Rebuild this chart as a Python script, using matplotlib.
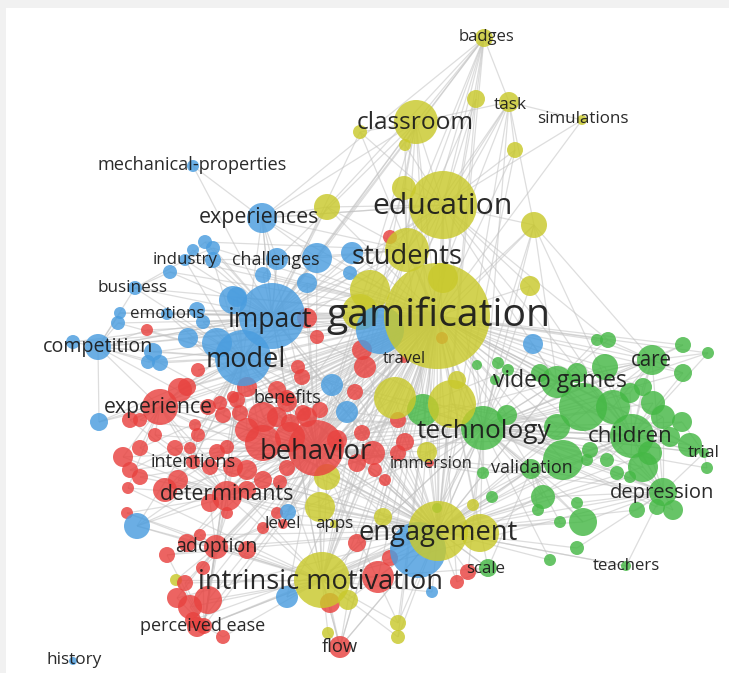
import matplotlib
matplotlib.use('Agg')
import matplotlib.pyplot as plt
from matplotlib.patches import Circle, Rectangle
from matplotlib.collections import LineCollection

# nodes: (label, x, y, radius, linked labels)
yellow_nodes = [
    ('gamification', 437, 316, 53, 'education;students;engagement;intrinsic motivation;behavior;impact;model;technology;children;video games;classroom;badges;experience;determinants;care;depression;adoption;perceived ease;flow;competition;validation;trial;scale;intentions'),
    ('education', 443, 205, 34, 'students;classroom;engagement;badges;task;technology;impact;intrinsic motivation;behavior;simulations;video games;children;model;experiences'),
    ('students', 407, 250, 22, 'classroom;engagement;intrinsic motivation;impact;model;badges;task;behavior;experiences;technology;determinants'),
    ('classroom', 416, 122, 22, 'badges;task;engagement;intrinsic motivation;impact;model;challenges;experiences;behavior'),
    ('badges', 484, 38, 9, 'task;engagement;intrinsic motivation;impact;model;behavior;experiences'),
    ('task', 509, 102, 10, 'engagement;simulations;intrinsic motivation;technology;behavior'),
    ('simulations', 582, 120, 5, 'gamification'),
    ('engagement', 438, 531, 30, 'intrinsic motivation;behavior;technology;impact;model;children;video games;depression;adoption;flow;scale;validation;determinants;care;teachers'),
    ('intrinsic motivation', 322, 580, 28, 'behavior;impact;model;determinants;adoption;perceived ease;flow;experience;technology;children'),
    ('apps', 334, 524, 4, 'gamification;engagement;behavior'),
    ('', 476, 99, 9, 'badges;education;students;gamification;engagement'),
    ('', 515, 150, 8, 'task;education;gamification;engagement'),
    ('', 360, 132, 7, 'classroom;education;gamification;impact'),
    ('', 405, 145, 6, 'classroom;education;students'),
    ('', 404, 188, 12, 'education;gamification;classroom;students;behavior'),
    ('', 327, 207, 13, 'education;gamification;impact;experiences;students;model;badges'),
    ('', 534, 225, 13, 'education;gamification;task;engagement;technology;video games;children;care;behavior'),
    ('', 530, 286, 10, 'gamification;education;technology;children'),
    ('', 443, 278, 15, 'gamification;education'),
    ('', 370, 290, 20, 'gamification;students;impact'),
    ('', 360, 312, 18, 'gamification;impact'),
    ('', 395, 398, 21, 'gamification;behavior;engagement;technology;model;children;intrinsic motivation'),
    ('', 452, 404, 24, 'gamification;technology;engagement;behavior;children;depression'),
    ('', 457, 380, 9, 'gamification;technology'),
    ('', 427, 452, 10, 'technology;engagement;behavior'),
    ('', 327, 477, 13, 'behavior;engagement;intrinsic motivation;gamification'),
    ('', 320, 507, 15, 'engagement;intrinsic motivation;behavior;gamification;technology'),
    ('', 383, 517, 9, 'engagement;gamification'),
    ('', 480, 533, 19, 'engagement;gamification;technology;children'),
    ('', 473, 505, 6, 'engagement;technology'),
    ('', 348, 600, 10, 'intrinsic motivation;flow;engagement;gamification'),
    ('', 398, 623, 8, 'intrinsic motivation;engagement;gamification;behavior'),
    ('', 398, 637, 7, 'intrinsic motivation;engagement;gamification'),
    ('', 328, 633, 6, 'intrinsic motivation;flow'),
    ('', 176, 580, 6, 'adoption;intrinsic motivation;perceived ease'),
]

blue_nodes = [
    ('impact', 272, 316, 33, 'model;behavior;experiences;challenges;competition;technology;experience;engagement;intrinsic motivation'),
    ('model', 243, 358, 28, 'behavior;determinants;experience;adoption;intentions;benefits;perceived ease;engagement;technology'),
    ('experiences', 262, 218, 15, 'impact;model;challenges;gamification;education;behavior'),
    ('challenges', 277, 259, 11, 'impact;gamification;industry;students'),
    ('industry', 185, 260, 6, 'impact;model;business;gamification'),
    ('mechanical-properties', 193, 166, 6, 'impact;experiences'),
    ('business', 135, 288, 7, 'impact;model;competition;gamification'),
    ('emotions', 167, 314, 6, 'impact;model;behavior;gamification'),
    ('competition', 98, 347, 13, 'impact;model;experience;engagement'),
    ('history', 73, 661, 4, ''),
    ('', 317, 258, 15, 'impact;gamification;students;experiences;behavior'),
    ('', 352, 253, 11, 'gamification;students;impact;model'),
    ('', 350, 273, 7, 'gamification;impact'),
    ('', 307, 283, 10, 'impact;gamification;behavior'),
    ('', 263, 275, 8, 'impact;challenges;gamification'),
    ('', 237, 297, 10, 'impact;model;gamification'),
    ('', 205, 242, 7, 'impact;industry;students'),
    ('', 213, 248, 7, 'impact;industry;gamification'),
    ('', 213, 260, 8, 'impact;model;gamification'),
    ('', 193, 250, 6, 'industry;impact'),
    ('', 170, 272, 7, 'impact;business;gamification'),
    ('', 197, 310, 8, 'impact;model;emotions;gamification'),
    ('', 120, 313, 6, 'competition;impact;gamification'),
    ('', 118, 323, 7, 'competition;model;gamification'),
    ('', 203, 322, 7, 'impact;model;gamification'),
    ('', 188, 338, 10, 'model;impact;competition;gamification;behavior'),
    ('', 153, 352, 9, 'model;competition;gamification'),
    ('', 160, 363, 8, 'model;competition;behavior'),
    ('', 148, 362, 7, 'competition;model;gamification'),
    ('', 73, 342, 7, 'competition;impact;gamification'),
    ('', 217, 343, 15, 'impact;model;behavior;gamification'),
    ('', 99, 422, 9, 'experience;model;competition;gamification'),
    ('', 137, 526, 13, 'determinants;intrinsic motivation;model;adoption;gamification;behavior'),
    ('', 287, 597, 11, 'intrinsic motivation;engagement;behavior;gamification'),
    ('', 288, 512, 8, 'behavior;determinants;gamification'),
    ('', 332, 385, 11, 'behavior;impact;gamification;engagement'),
    ('', 347, 412, 11, 'behavior;gamification;model;technology'),
    ('', 418, 550, 28, 'engagement;intrinsic motivation;gamification;behavior;technology'),
    ('', 432, 592, 6, 'engagement;intrinsic motivation'),
    ('', 533, 344, 10, 'gamification;technology;video games'),
    ('', 380, 330, 24, 'gamification;impact;students'),
    ('', 233, 300, 14, 'impact;model'),
]

red_nodes = [
    ('behavior', 316, 448, 28, 'experience;determinants;intentions;adoption;benefits;technology;engagement;children;video games;depression;validation'),
    ('experience', 160, 407, 18, 'determinants;intentions;behavior;engagement'),
    ('benefits', 287, 398, 8, 'behavior;model;gamification'),
    ('intentions', 193, 462, 7, 'determinants;behavior;model;engagement'),
    ('determinants', 227, 496, 15, 'adoption;behavior;perceived ease;technology'),
    ('level', 283, 524, 5, 'behavior;engagement'),
    ('adoption', 216, 547, 12, 'perceived ease;intrinsic motivation;technology'),
    ('perceived ease', 204, 626, 8, 'adoption;intrinsic motivation;model;engagement'),
    ('flow', 340, 647, 11, 'intrinsic motivation;engagement;gamification'),
    ('travel', 404, 359, 4, 'gamification;behavior'),
    ('immersion', 430, 463, 4, 'technology;behavior;gamification'),
    ('', 180, 390, 12, 'experience;model;gamification'),
    ('', 130, 420, 8, 'experience;determinants;gamification'),
    ('', 140, 420, 7, 'experience;behavior'),
    ('', 208, 407, 8, 'experience;model;gamification'),
    ('', 223, 415, 8, 'model;behavior;engagement'),
    ('', 195, 425, 6, 'experience;intentions;gamification'),
    ('', 155, 435, 7, 'experience;intentions;behavior'),
    ('', 198, 435, 7, 'intentions;model;gamification'),
    ('', 175, 448, 8, 'intentions;determinants;behavior'),
    ('', 140, 448, 8, 'experience;determinants;gamification'),
    ('', 123, 457, 10, 'experience;determinants;behavior'),
    ('', 130, 470, 8, 'determinants;intentions;gamification'),
    ('', 140, 477, 8, 'determinants;behavior'),
    ('', 128, 488, 6, 'determinants;experience;intrinsic motivation'),
    ('', 165, 490, 12, 'determinants;intentions;behavior;gamification'),
    ('', 178, 480, 10, 'determinants;intentions;engagement'),
    ('', 190, 448, 6, 'intentions;gamification'),
    ('', 217, 452, 8, 'intentions;behavior;gamification'),
    ('', 227, 447, 7, 'behavior;model'),
    ('', 210, 467, 8, 'intentions;determinants;engagement'),
    ('', 233, 467, 10, 'behavior;determinants;gamification'),
    ('', 247, 470, 10, 'behavior;determinants;engagement'),
    ('', 263, 480, 9, 'behavior;gamification'),
    ('', 280, 482, 7, 'behavior;determinants;technology'),
    ('', 287, 468, 8, 'behavior;gamification'),
    ('', 210, 503, 9, 'determinants;adoption;gamification'),
    ('', 247, 490, 9, 'determinants;behavior;engagement'),
    ('', 227, 513, 6, 'determinants;adoption'),
    ('', 127, 513, 6, 'determinants;adoption;intrinsic motivation'),
    ('', 277, 513, 6, 'behavior;determinants;engagement'),
    ('', 263, 528, 6, 'adoption;behavior;gamification'),
    ('', 200, 535, 6, 'adoption;engagement'),
    ('', 187, 543, 9, 'adoption;determinants;gamification'),
    ('', 167, 555, 8, 'adoption;perceived ease;engagement'),
    ('', 247, 550, 9, 'adoption;intrinsic motivation;gamification'),
    ('', 203, 568, 7, 'adoption;perceived ease;behavior'),
    ('', 185, 583, 8, 'perceived ease;intrinsic motivation;gamification'),
    ('', 177, 598, 10, 'perceived ease;adoption;engagement'),
    ('', 190, 607, 12, 'perceived ease;intrinsic motivation;behavior'),
    ('', 208, 600, 14, 'perceived ease;intrinsic motivation;adoption;gamification'),
    ('', 193, 620, 8, 'perceived ease;engagement'),
    ('', 197, 627, 10, 'perceived ease;gamification'),
    ('', 223, 637, 7, 'perceived ease;intrinsic motivation'),
    ('', 240, 413, 8, 'model;behavior;gamification'),
    ('', 247, 430, 12, 'behavior;model;engagement'),
    ('', 263, 417, 15, 'behavior;model;benefits;gamification'),
    ('', 277, 417, 10, 'behavior;benefits;technology'),
    ('', 290, 423, 9, 'behavior;gamification'),
    ('', 303, 413, 8, 'behavior;benefits;engagement'),
    ('', 320, 410, 8, 'behavior;gamification'),
    ('', 263, 443, 18, 'behavior;model;intentions;gamification'),
    ('', 290, 437, 15, 'behavior;engagement'),
    ('', 237, 400, 8, 'model;benefits;gamification'),
    ('', 247, 387, 10, 'model;behavior;gamification'),
    ('', 277, 390, 9, 'model;benefits;gamification'),
    ('', 337, 440, 10, 'behavior;technology'),
    ('', 317, 337, 7, 'impact;gamification'),
    ('', 307, 318, 10, 'impact;gamification;behavior'),
    ('', 362, 350, 10, 'gamification;behavior'),
    ('', 365, 367, 11, 'gamification;behavior;engagement'),
    ('', 298, 367, 7, 'model;behavior;gamification'),
    ('', 302, 377, 8, 'model;behavior'),
    ('', 355, 392, 8, 'behavior;engagement'),
    ('', 287, 402, 10, 'behavior;benefits;gamification'),
    ('', 307, 417, 10, 'behavior;technology'),
    ('', 362, 433, 8, 'behavior;technology;gamification'),
    ('', 398, 420, 8, 'behavior;gamification;engagement'),
    ('', 405, 442, 9, 'behavior;technology;gamification'),
    ('', 398, 453, 8, 'behavior;engagement'),
    ('', 373, 453, 12, 'behavior;engagement;gamification'),
    ('', 357, 463, 9, 'behavior;gamification'),
    ('', 375, 470, 7, 'behavior;engagement'),
    ('', 385, 480, 6, 'engagement;gamification'),
    ('', 357, 543, 9, 'engagement;intrinsic motivation;gamification'),
    ('', 378, 577, 16, 'engagement;intrinsic motivation;gamification'),
    ('', 390, 558, 8, 'engagement;gamification'),
    ('', 330, 603, 10, 'intrinsic motivation;flow;gamification'),
    ('', 457, 582, 7, 'engagement;scale;gamification'),
    ('', 468, 572, 8, 'engagement;scale;technology'),
    ('', 187, 387, 9, 'model;experience;gamification'),
    ('', 198, 370, 7, 'model;gamification'),
    ('', 220, 403, 7, 'model;experience;behavior'),
    ('', 233, 397, 6, 'model;gamification'),
    ('', 147, 330, 6, 'competition;model;gamification'),
    ('', 390, 237, 7, 'students;education'),
    ('', 442, 338, 6, 'gamification'),
]

green_nodes = [
    ('technology', 483, 428, 22, 'children;video games;validation;depression;care;engagement;trial;intrinsic motivation'),
    ('video games', 557, 382, 16, 'children;care;depression;technology;engagement'),
    ('care', 652, 360, 15, 'children;depression;video games;technology'),
    ('children', 632, 436, 22, 'depression;trial;validation;technology'),
    ('trial', 704, 453, 5, 'children;depression;technology'),
    ('depression', 663, 492, 14, 'validation;children;intrinsic motivation'),
    ('validation', 531, 469, 10, 'technology;engagement;intrinsic motivation'),
    ('teachers', 626, 566, 5, 'depression;engagement'),
    ('scale', 488, 568, 9, 'engagement;validation;intrinsic motivation'),
    ('', 597, 340, 6, 'care;video games;gamification'),
    ('', 608, 340, 8, 'care;video games;gamification;education'),
    ('', 683, 345, 8, 'care;gamification;technology'),
    ('', 708, 353, 6, 'care;children;gamification;technology'),
    ('', 605, 367, 13, 'video games;care;children;gamification'),
    ('', 683, 373, 9, 'care;children;technology;gamification'),
    ('', 477, 365, 5, 'technology;gamification'),
    ('', 498, 363, 6, 'video games;technology;gamification'),
    ('', 508, 370, 6, 'video games;technology;behavior'),
    ('', 495, 380, 5, 'technology;gamification'),
    ('', 540, 373, 9, 'video games;technology;gamification'),
    ('', 577, 373, 10, 'video games;children;gamification'),
    ('', 583, 407, 24, 'video games;children;technology;gamification;engagement'),
    ('', 613, 407, 17, 'children;care;technology;gamification'),
    ('', 630, 393, 10, 'children;care;technology'),
    ('', 643, 387, 9, 'children;care;gamification'),
    ('', 653, 403, 12, 'children;technology'),
    ('', 663, 417, 12, 'children;depression;gamification'),
    ('', 682, 422, 10, 'children;trial;technology'),
    ('', 650, 453, 12, 'children;depression;engagement'),
    ('', 670, 437, 10, 'children;technology'),
    ('', 690, 445, 12, 'children;trial;gamification'),
    ('', 707, 468, 6, 'trial;technology'),
    ('', 643, 467, 15, 'children;depression;technology;engagement'),
    ('', 617, 473, 7, 'depression;technology'),
    ('', 630, 477, 6, 'depression;children;engagement'),
    ('', 673, 510, 10, 'depression;technology'),
    ('', 637, 510, 8, 'depression;engagement'),
    ('', 657, 507, 8, 'depression;technology'),
    ('', 423, 410, 16, 'technology;gamification;behavior'),
    ('', 507, 415, 10, 'technology;gamification'),
    ('', 483, 473, 6, 'technology;validation;behavior'),
    ('', 492, 497, 6, 'validation;engagement;gamification'),
    ('', 563, 460, 20, 'validation;children;technology;gamification;engagement'),
    ('', 557, 427, 13, 'technology;children;gamification'),
    ('', 543, 497, 12, 'validation;depression;engagement;technology'),
    ('', 538, 510, 6, 'validation;engagement'),
    ('', 577, 503, 6, 'depression;technology'),
    ('', 583, 522, 14, 'depression;validation;engagement;technology'),
    ('', 560, 522, 6, 'validation;engagement'),
    ('', 577, 548, 7, 'depression;engagement'),
    ('', 550, 560, 6, 'engagement;technology'),
    ('', 590, 450, 8, 'children;technology'),
    ('', 587, 460, 6, 'children;validation'),
    ('', 607, 460, 7, 'children;technology'),
    ('', 437, 508, 5, 'engagement;technology'),
]

# label widths in pixels (used to size the fonts)
label_width = {
    'gamification': 225, 'education': 141, 'students': 111, 'classroom': 116,
    'badges': 56, 'task': 33, 'simulations': 92, 'engagement': 160,
    'intrinsic motivation': 246, 'apps': 38, 'impact': 85, 'model': 80,
    'experiences': 120, 'challenges': 88, 'industry': 65,
    'mechanical-properties': 190, 'business': 70, 'emotions': 74,
    'competition': 111, 'history': 55, 'behavior': 112, 'experience': 109,
    'benefits': 68, 'intentions': 86, 'determinants': 134, 'level': 36,
    'adoption': 82, 'perceived ease': 125, 'flow': 36, 'travel': 43,
    'immersion': 83, 'technology': 134, 'video games': 134, 'care': 41,
    'children': 85, 'trial': 32, 'depression': 104, 'validation': 82,
    'teachers': 67, 'scale': 39,
}
label_center = {
    'gamification': (438, 316), 'education': (443, 206), 'students': (407, 257),
    'classroom': (415, 123), 'badges': (487, 37), 'task': (510, 105),
    'simulations': (583, 119), 'engagement': (438, 533),
    'intrinsic motivation': (321, 582), 'apps': (334, 524), 'impact': (270, 320),
    'model': (246, 360), 'experiences': (259, 218), 'challenges': (276, 260),
    'industry': (185, 260), 'mechanical-properties': (192, 165),
    'business': (133, 288), 'emotions': (167, 314), 'competition': (98, 347),
    'history': (74, 660), 'behavior': (316, 452), 'experience': (158, 407),
    'benefits': (287, 398), 'intentions': (193, 462), 'determinants': (227, 495),
    'level': (283, 524), 'adoption': (216, 547), 'perceived ease': (203, 626),
    'flow': (340, 647), 'travel': (404, 359), 'immersion': (431, 464),
    'technology': (484, 432), 'video games': (560, 381), 'care': (651, 360),
    'children': (630, 437), 'trial': (704, 453), 'depression': (662, 493),
    'validation': (532, 468), 'teachers': (626, 566), 'scale': (486, 569),
}

colors = {'yellow': '#c9c92c', 'blue': '#4a9ddf', 'red': '#e8423f', 'green': '#45b845'}

nodes = []
for cl, lst in [('red', red_nodes), ('green', green_nodes), ('blue', blue_nodes), ('yellow', yellow_nodes)]:
    for lab, x, y, r, links in lst:
        nodes.append((lab, x, y, r, links, cl))

pos = {n[0]: (n[1], n[2]) for n in nodes if n[0]}

segs = []
for lab, x, y, r, links, cl in nodes:
    for other in links.split(';'):
        if other and other in pos:
            segs.append([(x, y), pos[other]])

fig = plt.figure(figsize=(7.29, 6.73), dpi=100)
fig.patch.set_facecolor('#f1f1f1')
ax = fig.add_axes([0, 0, 1, 1])
ax.set_xlim(0, 729)
ax.set_ylim(673, 0)
ax.axis('off')
ax.add_patch(Rectangle((6, 8), 730, 670, facecolor='white', edgecolor='none', zorder=0))

ax.add_collection(LineCollection(segs, colors='#c2c2c2', linewidths=0.9, alpha=0.55, zorder=1))

for lab, x, y, r, links, cl in sorted(nodes, key=lambda n: n[3]):
    ax.add_patch(Circle((x, y), r, facecolor=colors[cl], edgecolor='none', alpha=0.82, zorder=2))

renderer = fig.canvas.get_renderer()
for lab, (cx, cy) in label_center.items():
    t = ax.text(cx, cy, lab, fontsize=10, family='Open Sans', color='#1a1a1a',
                ha='center', va='center', alpha=0.93, zorder=3)
    w = t.get_window_extent(renderer).width
    t.set_fontsize(10 * label_width[lab] / w)

fig.savefig('out.png', dpi=100, facecolor=fig.get_facecolor())
